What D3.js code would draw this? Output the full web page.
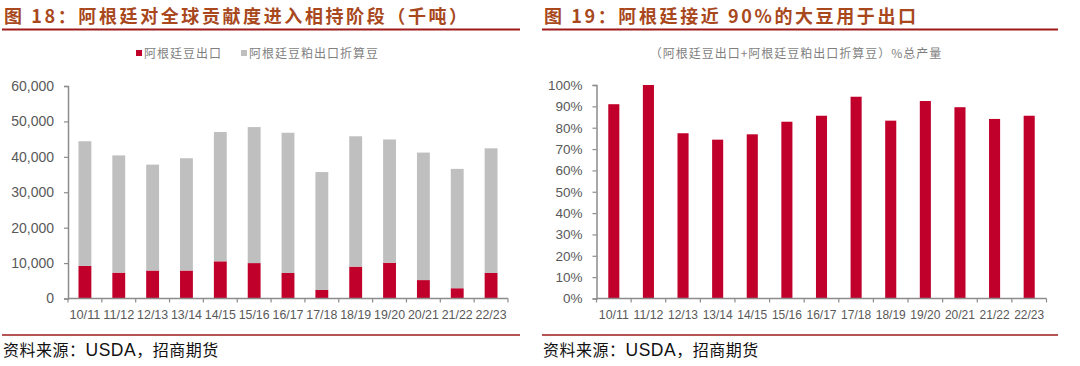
<!DOCTYPE html>
<html>
<head>
<meta charset="utf-8">
<script src="https://cdn.jsdelivr.net/npm/d3@7"></script>
<style>
    body { margin: 0; background: #fff; }
    svg { display: block; }
    .title { font-family: 'Noto Sans CJK SC', sans-serif; font-weight: 700; font-size: 18px; fill: #a8481c; letter-spacing: 2.6px; }
    .legend { font-family: 'Noto Sans CJK SC', sans-serif; font-size: 12px; fill: #7f7f7f; letter-spacing: 1px; }
    .source { font-family: 'Noto Sans CJK SC', sans-serif; font-size: 16px; fill: #111; letter-spacing: 0.5px; }
    .source .latin { font-family: 'Liberation Sans', Arial, sans-serif; font-size: 17.5px; }
    .axis text { font-family: 'Liberation Sans', Arial, sans-serif; fill: #595959; }
</style>
</head>
<body>
<svg id="chart" width="1080" height="366"></svg>
<script>
// season labels
const categories = ['10/11', '11/12', '12/13', '13/14', '14/15', '15/16', '16/17',
    '17/18', '18/19', '19/20', '20/21', '21/22', '22/23'];
// 阿根廷豆出口 (千吨)
const beanExports = [9200, 7300, 7900, 7900, 10500, 10000, 7200, 2400, 9000, 10100, 5200, 2900, 7200];
// 阿根廷豆粕出口折算豆 (千吨)
const mealAsBeans = [35200, 33100, 29900, 31700, 36500, 38400, 39600, 33300, 36800, 34800, 36000, 33700, 35200];
// (豆出口+豆粕出口折算豆) / 总产量, %
const exportShare = [91.0, 100, 77.4, 74.4, 76.9, 82.8, 85.6, 94.5, 83.3, 92.5, 89.6, 84.1, 85.6];
const leftTicks = [0, 10000, 20000, 30000, 40000, 50000, 60000];
const rightTicks = [0, 10, 20, 30, 40, 50, 60, 70, 80, 90, 100];

const RED = '#c0002b';
const GREY = '#bfbfbf';
const DARK_RED = '#9e1b1b';
const AXIS = '#8c8c8c';

const svg = d3.select('#chart');

function frame(x0, x1, title) {
    svg.append('text').attr('class', 'title').attr('x', x0 + 4).attr('y', 23).text(title);
    svg.append('line').attr('x1', x0 + 2).attr('x2', x1).attr('y1', 29.5).attr('y2', 29.5)
        .attr('stroke', DARK_RED).attr('stroke-width', 2);
    svg.append('line').attr('x1', x0 + 2).attr('x2', x1).attr('y1', 335).attr('y2', 335)
        .attr('stroke', DARK_RED).attr('stroke-width', 1.5);
    const src = svg.append('text').attr('class', 'source').attr('x', x0 + 3).attr('y', 356);
    src.append('tspan').text('资料来源：');
    src.append('tspan').attr('class', 'latin').text('USDA');
    src.append('tspan').text('，招商期货');
}

function xAxis(g, x, y0, labelLen) {
    const axis = g.append('g').attr('class', 'axis');
    axis.append('line').attr('x1', x.range()[0]).attr('x2', x.range()[1])
        .attr('y1', y0).attr('y2', y0).attr('stroke', AXIS).attr('stroke-width', 1.5);
    const edges = d3.range(categories.length + 1).map((i) => x.range()[0] + i * x.step());
    axis.selectAll('.xt').data(edges).enter().append('line')
        .attr('x1', (d) => d).attr('x2', (d) => d)
        .attr('y1', y0).attr('y2', y0 + 4).attr('stroke', AXIS).attr('stroke-width', 1.2);
    axis.selectAll('.xl').data(categories).enter().append('text')
        .attr('x', (d) => x(d) + x.bandwidth() / 2 - labelLen / 2)
        .attr('y', y0 + 20)
        .attr('font-size', 13.5)
        .attr('textLength', labelLen)
        .attr('lengthAdjust', 'spacingAndGlyphs')
        .text((d) => d);
}

function yAxis(g, y, xPos, ticks, fmt, fontSize) {
    const axis = g.append('g').attr('class', 'axis')
        .attr('transform', 'translate(' + xPos + ',0)')
        .call(d3.axisLeft(y).tickValues(ticks).tickSize(4).tickPadding(10).tickFormat(fmt));
    axis.select('.domain').attr('stroke', AXIS).attr('stroke-width', 1.5);
    axis.selectAll('.tick line').attr('stroke', AXIS).attr('stroke-width', 1.2);
    axis.selectAll('text').attr('font-size', fontSize);
}

// ---- Figure 18: stacked bars ----
frame(0, 520, '图 18：阿根廷对全球贡献度进入相持阶段（千吨）');

const xL = d3.scaleBand().domain(categories).range([68, 508])
    .paddingInner(0.62).paddingOuter(0.31);
const yL = d3.scaleLinear().domain([0, 60000]).range([298.5, 86]);

const rows = categories.map((c, i) => ({ cat: c, bean: beanExports[i], meal: mealAsBeans[i] }));
const stacked = d3.stack().keys(['bean', 'meal'])(rows);
const colors = { bean: RED, meal: GREY };

const left = svg.append('g');
left.selectAll('.layer').data(stacked).enter().append('g')
    .attr('fill', (d) => colors[d.key])
    .selectAll('rect').data((d) => d).enter().append('rect')
    .attr('x', (d) => xL(d.data.cat))
    .attr('width', xL.bandwidth())
    .attr('y', (d) => yL(d[1]))
    .attr('height', (d) => yL(d[0]) - yL(d[1]));

yAxis(left, yL, 68, leftTicks, d3.format(','), 14);
xAxis(left, xL, 298.5, 31);

// legend
const legendItems = [
    { label: '阿根廷豆出口', color: RED, x: 136 },
    { label: '阿根廷豆粕出口折算豆', color: GREY, x: 241 },
];
legendItems.forEach((d) => {
    svg.append('rect').attr('x', d.x).attr('y', 50).attr('width', 6).attr('height', 6).attr('fill', d.color);
    svg.append('text').attr('class', 'legend').attr('x', d.x + 8).attr('y', 57.5).text(d.label);
});

// ---- Figure 19: share bars ----
frame(540, 1058, '图 19：阿根廷接近 90%的大豆用于出口');

const xR = d3.scaleBand().domain(categories).range([596.5, 1046.5])
    .paddingInner(0.68).paddingOuter(0.34);
const yR = d3.scaleLinear().domain([0, 100]).range([298.5, 85]);

const right = svg.append('g');
right.selectAll('rect').data(exportShare).enter().append('rect')
    .attr('x', (d, i) => xR(categories[i]))
    .attr('width', xR.bandwidth())
    .attr('y', (d) => yR(d))
    .attr('height', (d) => yR(0) - yR(d))
    .attr('fill', RED);

yAxis(right, yR, 596.5, rightTicks, (d) => d + '%', 13.5);
xAxis(right, xR, 298.5, 30);

svg.append('text').attr('class', 'legend')
    .attr('x', 796).attr('y', 57.5).attr('text-anchor', 'middle')
    .text('（阿根廷豆出口+阿根廷豆粕出口折算豆）%总产量');
</script>
</body>
</html>
